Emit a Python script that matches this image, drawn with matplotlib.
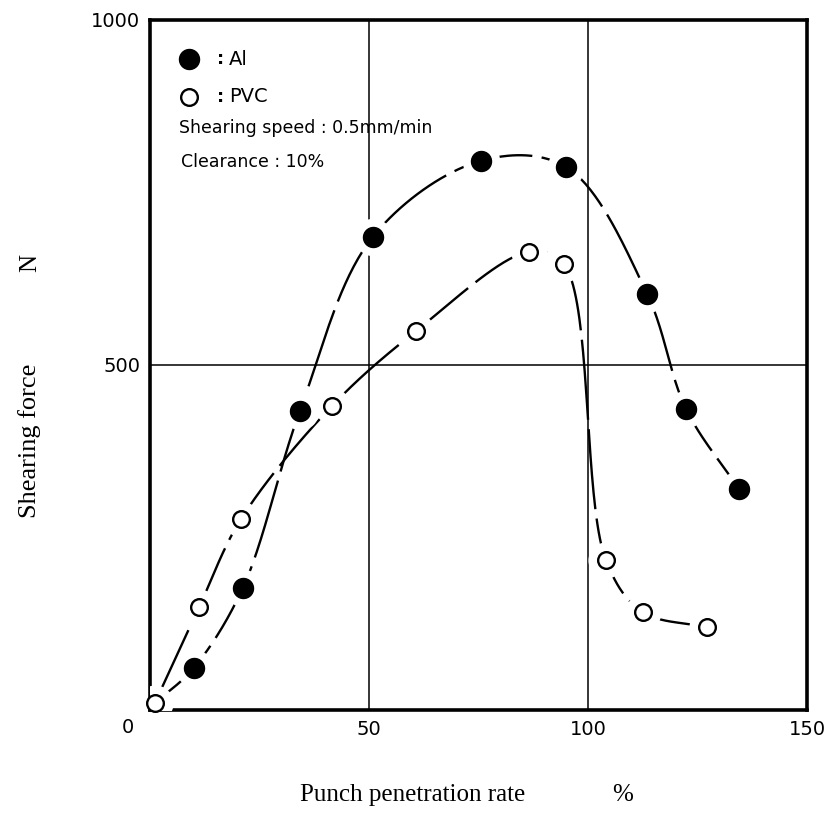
import numpy as np
import matplotlib
matplotlib.use("Agg")
import matplotlib.pyplot as plt

# ---- data ----
al_x = [10.0, 21.2, 34.2, 50.9, 75.6, 95.0, 113.5, 122.4, 134.5]
al_y = [61, 177, 433, 686, 796, 787, 603, 436, 320]

pvc_x = [1.1, 11.2, 20.8, 41.6, 60.7, 86.5, 94.5, 104.1, 112.5, 127.2]
pvc_y = [10, 149, 277, 441, 549, 664, 646, 217, 142, 120]

x_ticks = [50, 100, 150]
y_ticks = [500, 1000]

W, H = 834, 816
fig = plt.figure(figsize=(W / 100, H / 100), dpi=100)
ax = fig.add_axes([150 / W, 1 - 710 / H, 657 / W, 690 / H])
ax.set_xlim(0, 150)
ax.set_ylim(0, 1000)

SX, SY = 4.38, 0.69  # px per data unit, used only for smooth curve parameterisation


def catmull_rom(xs, ys, n=40, alpha=0.5):
    P = np.column_stack([np.asarray(xs, float) * SX, np.asarray(ys, float) * SY])
    P = np.vstack([2 * P[0] - P[1], P, 2 * P[-1] - P[-2]])
    out = []
    for i in range(1, len(P) - 2):
        p0, p1, p2, p3 = P[i - 1], P[i], P[i + 1], P[i + 2]
        t0 = 0.0
        t1 = t0 + np.linalg.norm(p1 - p0) ** alpha
        t2 = t1 + np.linalg.norm(p2 - p1) ** alpha
        t3 = t2 + np.linalg.norm(p3 - p2) ** alpha
        t = np.linspace(t1, t2, n)[:, None]
        A1 = (t1 - t) / (t1 - t0) * p0 + (t - t0) / (t1 - t0) * p1
        A2 = (t2 - t) / (t2 - t1) * p1 + (t - t1) / (t2 - t1) * p2
        A3 = (t3 - t) / (t3 - t2) * p2 + (t - t2) / (t3 - t2) * p3
        B1 = (t2 - t) / (t2 - t0) * A1 + (t - t0) / (t2 - t0) * A2
        B2 = (t3 - t) / (t3 - t1) * A2 + (t - t1) / (t3 - t1) * A3
        C = (t2 - t) / (t2 - t1) * B1 + (t - t1) / (t2 - t1) * B2
        out.append(C if i == 1 else C[1:])
    C = np.vstack(out)
    return C[:, 0] / SX, C[:, 1] / SY


# grid
for gx in [50, 100]:
    ax.axvline(gx, color="black", lw=1.1, zorder=1)
ax.axhline(500, color="black", lw=1.1, zorder=1)

# curves
cx, cy = catmull_rom([pvc_x[0]] + al_x, [pvc_y[0]] + al_y)
ax.plot(cx, cy, color="black", lw=1.7, ls=(0, (34, 4)), zorder=2)
px, py = catmull_rom(pvc_x, pvc_y)
ax.plot(px, py, color="black", lw=1.7, ls=(0, (34, 4)), zorder=2)

# halos (white gaps around markers)
ax.plot(al_x, al_y, "o", ms=27, color="white", mec="none", zorder=3)
ax.plot(pvc_x, pvc_y, "o", ms=26, color="white", mec="none", zorder=3)

# markers
ax.plot(al_x, al_y, "o", ms=14.4, mfc="black", mec="black", zorder=4, clip_on=False)
ax.plot(pvc_x, pvc_y, "o", ms=12, mfc="white", mec="black", mew=1.7, zorder=4, clip_on=False)

# spines / ticks
for s in ax.spines.values():
    s.set_linewidth(2.6)
ax.set_xticks(x_ticks)
ax.set_xticklabels([str(v) for v in x_ticks], fontsize=14, family="DejaVu Sans")
ax.set_yticks(y_ticks)
ax.set_yticklabels([str(v) for v in y_ticks], fontsize=14, family="DejaVu Sans")
ax.tick_params(length=0, pad=7)
ax.text(-5, -25, "0", transform=ax.transData, ha="center", va="center",
        fontsize=14, family="DejaVu Sans", clip_on=False)

# legend-like annotations
ax.plot([8.8], [943], "o", ms=14.4, mfc="black", mec="black")
ax.plot([8.8], [889], "o", ms=12, mfc="white", mec="black", mew=1.7)
ax.text(15.2, 943, ":", fontsize=13, va="center", family="DejaVu Sans", weight="bold")
ax.text(18.0, 943, "Al", fontsize=14, va="center", family="DejaVu Sans")
ax.text(15.2, 889, ":", fontsize=13, va="center", family="DejaVu Sans", weight="bold")
ax.text(18.0, 889, "PVC", fontsize=14, va="center", family="DejaVu Sans")
ax.text(6.6, 843, "Shearing speed : 0.5mm/min", fontsize=12.5, va="center", family="DejaVu Sans")
ax.text(7.0, 794, "Clearance : 10%", fontsize=12.5, va="center", family="DejaVu Sans")

# axis titles (serif)
fig.text(300 / W, 1 - 795 / H, "Punch penetration rate", fontsize=18,
         family="Liberation Serif", ha="left", va="center")
fig.text(623 / W, 1 - 795 / H, "%", fontsize=18, family="Liberation Serif",
         ha="center", va="center")
fig.text(30 / W, 1 - 441 / H, "Shearing force", fontsize=19, rotation=90,
         family="Liberation Serif", ha="center", va="center")
fig.text(30 / W, 1 - 263 / H, "N", fontsize=18, rotation=90,
         family="Liberation Serif", ha="center", va="center")

fig.savefig("out.png", dpi=100, facecolor="white")
